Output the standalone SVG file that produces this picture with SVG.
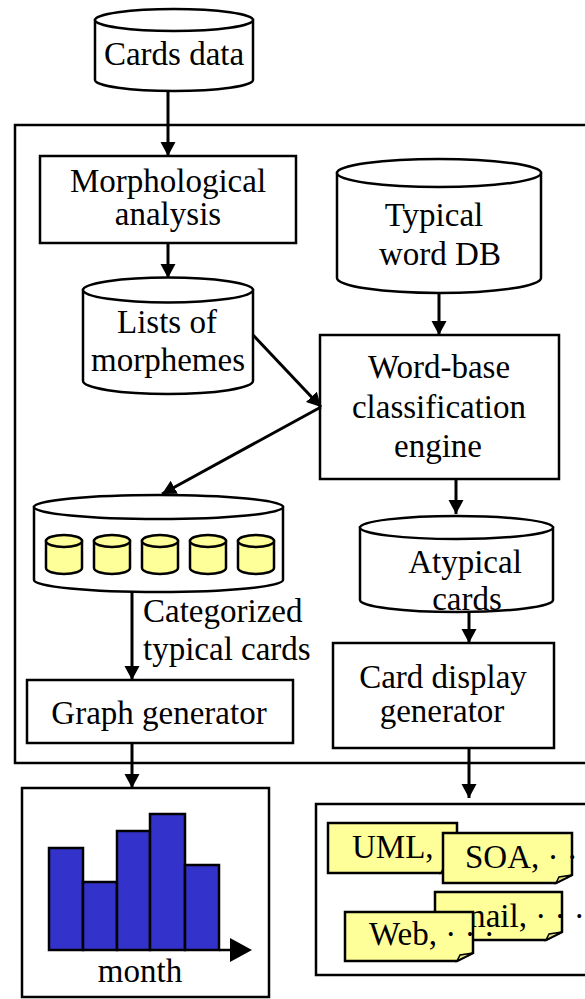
<svg xmlns="http://www.w3.org/2000/svg" width="585" height="999" viewBox="0 0 585 999">
<defs>
<marker id="ah" markerUnits="userSpaceOnUse" markerWidth="16" markerHeight="16" refX="14" refY="7.5" orient="auto">
<path d="M0,0 L14,7.5 L0,15 z" fill="#000"/>
</marker>
<style>
.t{font-family:"Liberation Serif","Times New Roman",serif;font-size:33px;fill:#000}
.m{text-anchor:middle}
.s{fill:#fff;stroke:#000;stroke-width:2.5}
.c{fill:none;stroke:#000;stroke-width:3;marker-end:url(#ah)}
.y{fill:#FFFF99;stroke:#000;stroke-width:2.5}
.f{fill:#E0E080;stroke:#000;stroke-width:1.5}
.b{fill:#3333CC;stroke:#000;stroke-width:2.5}
</style>
</defs>
<rect width="585" height="999" fill="#fff"/>

<g id="frame"><path d="M585,125 H15 V763 H585" fill="none" stroke="#000" stroke-width="2.5"/></g>

<g id="cards-data">
<path class="s" d="M95,20 V80 A79,11 0 0 0 253,80 V20 Z"/>
<ellipse class="s" cx="174" cy="20" rx="79" ry="11"/>
<text class="t m" x="174" y="65">Cards data</text>
</g>

<g id="morph">
<rect class="s" x="40" y="156" width="256" height="87"/>
<text class="t m" x="168" y="192">Morphological</text>
<text class="t m" x="168" y="225">analysis</text>
</g>

<g id="lists">
<path class="s" d="M83,290 V381 A85,13 0 0 0 253,381 V290 Z"/>
<ellipse class="s" cx="168" cy="290" rx="85" ry="12.5"/>
<text class="t m" x="167" y="333">Lists of</text>
<text class="t m" x="168" y="371">morphemes</text>
</g>

<g id="typical-db">
<path class="s" d="M337,173 V278 A102,15 0 0 0 541,278 V173 Z"/>
<ellipse class="s" cx="439" cy="173" rx="102" ry="14"/>
<text class="t m" x="434" y="226">Typical</text>
<text class="t m" x="440" y="265">word DB</text>
</g>

<g id="engine">
<rect class="s" x="320" y="335" width="239" height="144"/>
<text class="t m" x="439" y="378">Word-base</text>
<text class="t m" x="439" y="418">classification</text>
<text class="t m" x="438" y="457">engine</text>
</g>

<g id="categorized">
<path class="s" d="M34,507 V580 A124.5,12 0 0 0 283,580 V507 Z"/>
<ellipse class="s" cx="158.5" cy="507" rx="124.5" ry="12"/>
<g>
<path class="y" d="M46,541 V568 A18,6 0 0 0 82,568 V541 Z"/><ellipse class="y" cx="64" cy="541" rx="18" ry="6"/>
<path class="y" d="M94,541 V568 A18,6 0 0 0 130,568 V541 Z"/><ellipse class="y" cx="112" cy="541" rx="18" ry="6"/>
<path class="y" d="M142,541 V568 A18,6 0 0 0 178,568 V541 Z"/><ellipse class="y" cx="160" cy="541" rx="18" ry="6"/>
<path class="y" d="M190,541 V568 A18,6 0 0 0 226,568 V541 Z"/><ellipse class="y" cx="208" cy="541" rx="18" ry="6"/>
<path class="y" d="M238,541 V568 A18,6 0 0 0 274,568 V541 Z"/><ellipse class="y" cx="256" cy="541" rx="18" ry="6"/>
</g>
<text class="t" x="143" y="622">Categorized</text>
<text class="t" x="143" y="660">typical cards</text>
</g>

<g id="atypical">
<path class="s" d="M360,527.5 V600 A96.5,12 0 0 0 553,600 V527.5 Z"/>
<ellipse class="s" cx="456.5" cy="527.5" rx="96.5" ry="11.5"/>
<text class="t m" x="465" y="573">Atypical</text>
<text class="t m" x="467" y="610">cards</text>
</g>

<g id="graph-gen">
<rect class="s" x="27" y="680" width="266" height="63"/>
<text class="t m" x="159" y="724">Graph generator</text>
</g>

<g id="card-display">
<rect class="s" x="333" y="643" width="221" height="105"/>
<text class="t m" x="443" y="688">Card display</text>
<text class="t m" x="442" y="722">generator</text>
</g>

<g id="chart">
<rect class="s" x="22" y="788" width="247" height="209"/>
<rect class="b" x="49" y="848" width="34" height="102"/>
<rect class="b" x="83" y="882" width="34" height="68"/>
<rect class="b" x="117" y="831" width="33" height="119"/>
<rect class="b" x="150" y="814" width="35" height="136"/>
<rect class="b" x="185" y="865" width="34" height="85"/>
<line x1="219" y1="950" x2="234" y2="950" stroke="#000" stroke-width="2.5"/>
<polygon points="230,938 252,950 230,962" fill="#000"/>
<text class="t m" x="140" y="982">month</text>
</g>

<g id="cards-box">
<path d="M585,804 H316 V975 H585" fill="none" stroke="#000" stroke-width="2.5"/>
<g id="note-uml">
<path class="y" d="M328,823 H457 V865 L441,873 H328 Z"/><path class="f" d="M441,873 L457,865 L444,867 Z"/>
<text class="t" x="352" y="858">UML, · · ·</text>
</g>
<g id="note-soa">
<path class="y" d="M443,833 H572 V875 L556,883 H443 Z"/><path class="f" d="M556,883 L572,875 L559,877 Z"/>
<text class="t" x="465" y="868">SOA, · · ·</text>
</g>
<g id="note-mail">
<path class="y" d="M435,892 H562 V932 L546,940 H435 Z"/><path class="f" d="M546,940 L562,932 L549,934 Z"/>
<text class="t" x="460" y="927">mail, · · ·</text>
</g>
<g id="note-web">
<path class="y" d="M345,912 H473 V953 L457,961 H345 Z"/><path class="f" d="M457,961 L473,953 L460,955 Z"/>
<text class="t" x="369" y="945">Web, · · ·</text>
</g>
</g>

<g id="connectors">
<line class="c" x1="168" y1="91" x2="168" y2="156"/>
<line class="c" x1="168" y1="243" x2="168" y2="278"/>
<line class="c" x1="439" y1="293" x2="439" y2="335"/>
<line class="c" x1="253" y1="335" x2="321" y2="407"/>
<line class="c" x1="321" y1="407" x2="162" y2="494"/>
<line class="c" x1="456" y1="479" x2="456" y2="514"/>
<line class="c" x1="469" y1="612" x2="469" y2="643"/>
<line class="c" x1="132" y1="592" x2="132" y2="680"/>
<line class="c" x1="132" y1="743" x2="132" y2="788"/>
<line class="c" x1="469" y1="748" x2="469" y2="798"/>
</g>
</svg>
